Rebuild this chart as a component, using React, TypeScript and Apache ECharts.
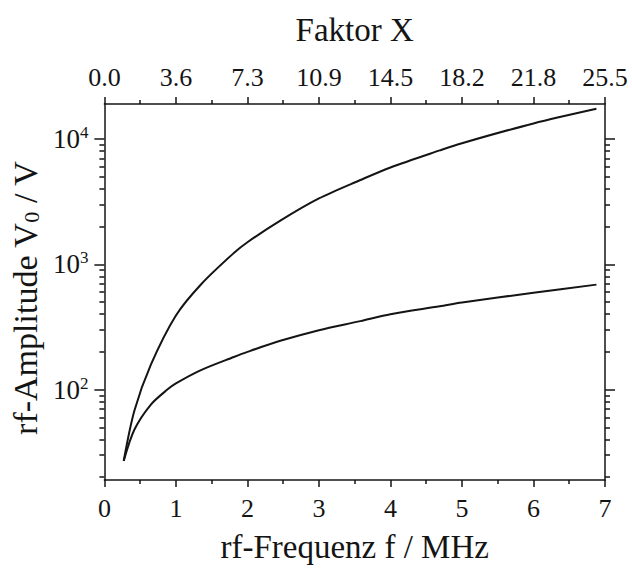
import React, { useEffect, useRef } from "react";
import * as echarts from "echarts";

const freqUpper = [0.27, 0.42, 0.65, 1.0, 1.35, 1.81, 2.0, 2.46, 3.0, 3.58, 4.0, 4.69, 5.0, 6.0, 6.88];
const voltUpper = [27, 68, 158, 390, 690, 1230, 1500, 2230, 3350, 4700, 5920, 8100, 9250, 13300, 17400];

const freqLower = [0.27, 0.42, 0.65, 0.88, 1.0, 1.35, 1.81, 2.0, 2.46, 3.0, 3.58, 4.0, 4.69, 5.0, 6.0, 6.88];
const voltLower = [27, 48, 76, 100, 112, 143, 182, 200, 245, 298, 352, 400, 462, 495, 593, 688];

const topLabels = ["0.0", "3.6", "7.3", "10.9", "14.5", "18.2", "21.8", "25.5"];
const bottomLabels = ["0", "1", "2", "3", "4", "5", "6", "7"];
const yMajor = [100, 1000, 10000];
const yMinor = [20, 30, 40, 50, 60, 70, 80, 90, 200, 300, 400, 500, 600, 700, 800, 900, 2000, 3000, 4000, 5000, 6000, 7000, 8000, 9000];

const FONT = "Liberation Serif";
const INK = "#141414";

export default function App() {
  const ref = useRef<HTMLDivElement>(null);
  useEffect(() => {
    if (!ref.current) return;
    const chart = echarts.init(ref.current, null, { renderer: "svg" });
    const xCommon = {
      type: "value",
      min: 0,
      max: 7,
      interval: 1,
      splitLine: { show: false },
      axisLine: { show: true, onZero: false, lineStyle: { color: INK, width: 1.5 } },
      axisTick: { show: true, inside: false, length: 7, lineStyle: { color: INK, width: 1.5 } },
      minorTick: { show: true, splitNumber: 2, length: 4, lineStyle: { color: INK, width: 1.5 } },
      minorSplitLine: { show: false },
    };
    const yCommon = {
      type: "log",
      min: 19,
      max: 19000,
      logBase: 10,
      splitLine: { show: false },
    };
    const supRich = {
      b: { fontFamily: FONT, fontSize: 27, color: INK, lineHeight: 30 },
      s: { fontFamily: FONT, fontSize: 17, color: INK, verticalAlign: "top", lineHeight: 17 },
    };
    chart.setOption({
      animation: false,
      backgroundColor: "#ffffff",
      textStyle: { fontFamily: FONT, color: INK },
      grid: { left: 103, right: 27, top: 104, bottom: 85, containLabel: false },
      xAxis: [
        {
          ...xCommon,
          position: "bottom",
          name: "rf-Frequenz f / MHz",
          nameLocation: "middle",
          nameGap: 50,
          nameTextStyle: { fontFamily: FONT, fontSize: 33, color: INK },
          axisLabel: {
            show: true,
            margin: 15,
            fontFamily: FONT,
            fontSize: 26,
            color: INK,
            formatter: (v: number) => bottomLabels[Math.round(v)] ?? "",
          },
        },
        {
          ...xCommon,
          position: "top",
          name: "Faktor X",
          nameLocation: "middle",
          nameGap: 58,
          nameTextStyle: { fontFamily: FONT, fontSize: 33, color: INK },
          axisLabel: {
            show: true,
            margin: 14,
            fontFamily: FONT,
            fontSize: 26,
            color: INK,
            formatter: (v: number) => topLabels[Math.round(v)] ?? "",
          },
        },
      ],
      yAxis: [
        {
          ...yCommon,
          position: "left",
          name: "rf-Amplitude V{sub|0} / V",
          nameLocation: "middle",
          nameGap: 52,
          nameRotate: 90,
          nameTextStyle: {
            fontFamily: FONT,
            fontSize: 34,
            color: INK,
            padding: [0, 12, 0, 0],
            rich: {
              sub: { fontFamily: FONT, fontSize: 22, color: INK, verticalAlign: "bottom" },
            },
          },
          axisLine: { show: true, lineStyle: { color: INK, width: 1.5 } },
          axisTick: { show: true, inside: false, length: 10, customValues: yMajor, lineStyle: { color: INK, width: 1.5 } },
          axisLabel: {
            show: true,
            margin: 16,
            fontFamily: FONT,
            customValues: yMajor,
            formatter: (v: number) => `{b|10}{s|${Math.round(Math.log10(v))}}`,
            rich: supRich,
          },
        },
        {
          ...yCommon,
          position: "left",
          axisLine: { show: false },
          axisTick: { show: true, inside: false, length: 5, customValues: yMinor, lineStyle: { color: INK, width: 1.5 } },
          axisLabel: { show: false },
        },
        {
          ...yCommon,
          position: "right",
          axisLine: { show: true, lineStyle: { color: INK, width: 1.5 } },
          axisTick: { show: true, inside: false, length: 10, customValues: yMajor, lineStyle: { color: INK, width: 1.5 } },
          axisLabel: { show: false },
        },
        {
          ...yCommon,
          position: "right",
          axisLine: { show: false },
          axisTick: { show: true, inside: false, length: 5, customValues: yMinor, lineStyle: { color: INK, width: 1.5 } },
          axisLabel: { show: false },
        },
      ],
      series: [
        {
          type: "line",
          xAxisIndex: 0,
          yAxisIndex: 0,
          data: freqUpper.map((f, i) => [f, voltUpper[i]]),
          smooth: 0.3,
          showSymbol: false,
          lineStyle: { color: INK, width: 2 },
        },
        {
          type: "line",
          xAxisIndex: 0,
          yAxisIndex: 0,
          data: freqLower.map((f, i) => [f, voltLower[i]]),
          smooth: 0.3,
          showSymbol: false,
          lineStyle: { color: INK, width: 2 },
        },
      ],
    });
    return () => chart.dispose();
  }, []);
  return (
    <div
      ref={ref}
      style={{ position: "fixed", left: 0, top: 0, width: 632, height: 568, background: "#fff" }}
    />
  );
}
